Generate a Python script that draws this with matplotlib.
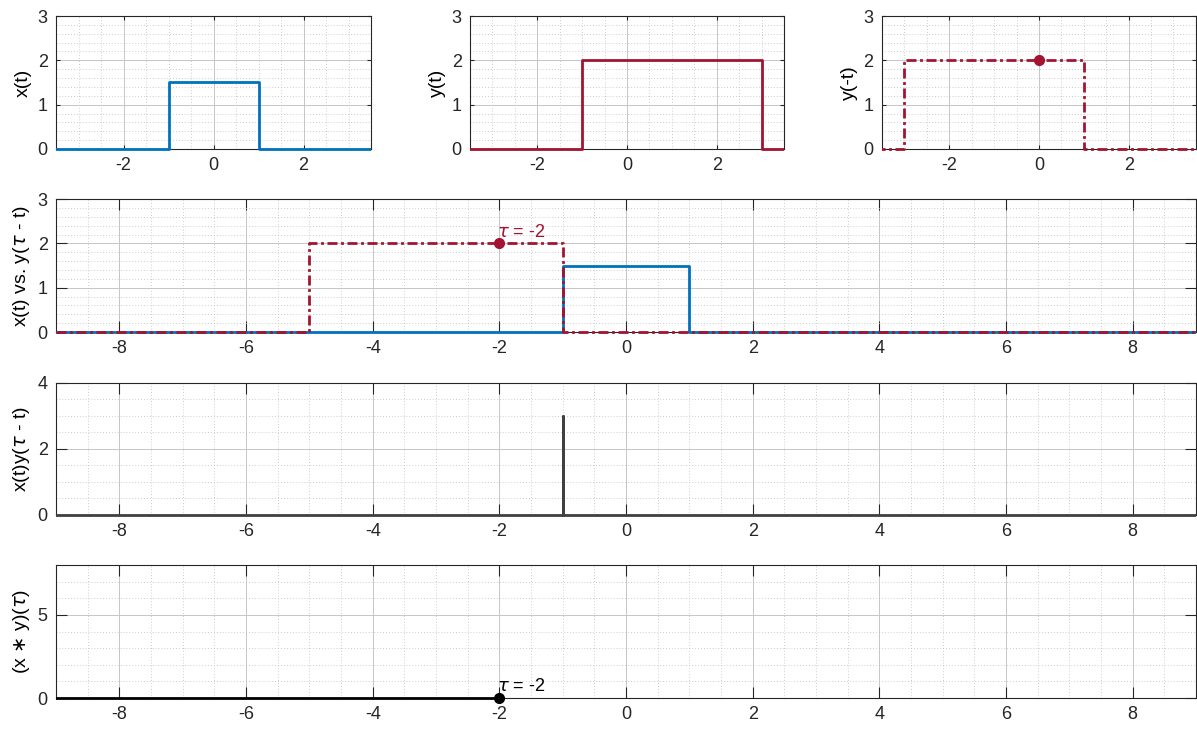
import matplotlib
matplotlib.use("Agg")
import matplotlib.pyplot as plt
from matplotlib.patches import Rectangle
from matplotlib.ticker import MultipleLocator

plt.rcParams['font.family'] = ['Liberation Sans', 'DejaVu Sans']
plt.rcParams['mathtext.fontset'] = 'dejavusans'
plt.rcParams['axes.unicode_minus'] = False

BLUE = '#0072BD'
RED = '#A2142F'
DASHDOT = (0, (3.6, 1.3, 1.0, 1.3))

tau = -2

# x(t): pulse of 1.5 on [-1, 1]
x_t = [-9, -1, -1, 1, 1, 9]
x_v = [0, 0, 1.5, 1.5, 0, 0]
# y(t): pulse of 2 on [-1, 3]
y_t = [-9, -1, -1, 3, 3, 9]
y_v = [0, 0, 2, 2, 0, 0]
# y(-t)
yr_t = [-9, -3, -3, 1, 1, 9]
yr_v = [0, 0, 2, 2, 0, 0]
# y(tau - t) at tau = -2
ys_t = [-9, -5, -5, -1, -1, 9]
ys_v = [0, 0, 2, 2, 0, 0]
# x(t) y(tau - t)
p_t = [-9, -1, -1, -1, 9]
p_v = [0, 0, 3, 0, 0]
# (x*y)(tau) computed so far
c_t = [-9, -2]
c_v = [0, 0]
marker_v = 2


def clip_x_only(ax, artists):
    # clip to the x range but let lines at y=0 show at full width
    rect = Rectangle((0, -0.1), 1, 1.2, transform=ax.transAxes,
                     fill=False, visible=False)
    ax.add_patch(rect)
    for a in artists:
        a.set_clip_path(rect)
        a.set_zorder(3)


def style(ax, xlim, ylim, xmaj, xmin, ymaj, ymin, ticklen):
    ax.set_xlim(*xlim)
    ax.set_ylim(*ylim)
    ax.xaxis.set_major_locator(MultipleLocator(xmaj))
    ax.xaxis.set_minor_locator(MultipleLocator(xmin))
    ax.yaxis.set_major_locator(MultipleLocator(ymaj))
    ax.yaxis.set_minor_locator(MultipleLocator(ymin))
    ax.grid(which='major', color='#c6c6c6', lw=0.7, ls='-')
    ax.grid(which='minor', color='#bdbdbd', lw=0.6, ls=(0, (1, 2.5)))
    ax.tick_params(which='major', direction='in', top=True, right=True,
                   length=ticklen, width=0.8, colors='#262626',
                   labelsize=13, pad=6)
    ax.tick_params(which='minor', length=0)
    ax.set_axisbelow(True)
    for s in ax.spines.values():
        s.set_color('#262626')
        s.set_linewidth(0.8)


fig = plt.figure(figsize=(11.97, 7.31), dpi=100)

ax1 = fig.add_axes([0.0468, 0.7962, 0.2632, 0.1819])
ax2 = fig.add_axes([0.3927, 0.7962, 0.2623, 0.1819])
ax3 = fig.add_axes([0.7368, 0.7962, 0.2623, 0.1819])
ax4 = fig.add_axes([0.0468, 0.5458, 0.9524, 0.1819])
ax5 = fig.add_axes([0.0468, 0.2955, 0.9524, 0.1806])
ax6 = fig.add_axes([0.0468, 0.0451, 0.9524, 0.1819])

# top row
l1 = ax1.plot(x_t, x_v, color=BLUE, lw=2)
clip_x_only(ax1, l1)
style(ax1, (-3.5, 3.5), (0, 3), 2, 0.5, 1, 0.2, 3)
ax1.set_ylabel('x(t)', fontsize=14)

l2 = ax2.plot(y_t, y_v, color=RED, lw=2)
clip_x_only(ax2, l2)
style(ax2, (-3.5, 3.5), (0, 3), 2, 0.5, 1, 0.2, 3)
ax2.set_ylabel('y(t)', fontsize=14)

l3 = ax3.plot(yr_t, yr_v, color=RED, lw=2, ls=DASHDOT)
clip_x_only(ax3, l3)
ax3.plot([0], [marker_v], 'o', color=RED, ms=7, zorder=4)
style(ax3, (-3.5, 3.5), (0, 3), 2, 0.5, 1, 0.2, 3)
ax3.set_ylabel('y(-t)', fontsize=14)

# x(t) vs shifted/flipped y
l4 = ax4.plot(x_t, x_v, color=BLUE, lw=2)
l4 += ax4.plot(ys_t, ys_v, color=RED, lw=2, ls=DASHDOT)
clip_x_only(ax4, l4)
l4[1].set_zorder(3.1)
ax4.plot([tau], [marker_v], 'o', color=RED, ms=7, zorder=4)
ax4.annotate(r'$\tau$ = -2', (tau, marker_v), xytext=(-2, 2),
             textcoords='offset points', ha='left', va='bottom',
             color=RED, fontsize=13)
style(ax4, (-9, 9), (0, 3), 2, 0.5, 1, 0.2, 8)
ax4.set_ylabel(r'x(t) vs. y($\tau$ - t)', fontsize=14)

# product
l5 = ax5.plot(p_t, p_v, color='#404040', lw=2)
clip_x_only(ax5, l5)
style(ax5, (-9, 9), (0, 4), 2, 0.5, 2, 0.5, 8)
ax5.set_ylabel(r'x(t)y($\tau$ - t)', fontsize=14)

# convolution
l6 = ax6.plot(c_t, c_v, color='black', lw=2)
clip_x_only(ax6, l6)
ax6.plot([tau], [c_v[-1]], 'o', color='black', ms=7, clip_on=False,
         zorder=5)
ax6.annotate(r'$\tau$ = -2', (tau, c_v[-1]), xytext=(-2, 2),
             textcoords='offset points', ha='left', va='bottom',
             color='black', fontsize=13)
style(ax6, (-9, 9), (0, 8), 2, 0.5, 5, 1, 8)
ax6.set_ylabel(r'(x $\ast$ y)($\tau$)', fontsize=14)

fig.savefig('out.png', dpi=100)
